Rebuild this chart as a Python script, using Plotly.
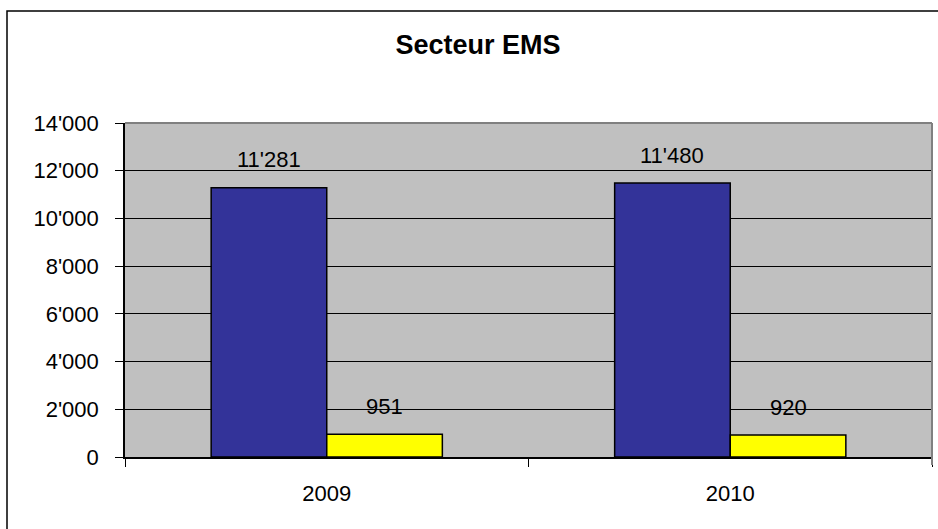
import plotly.graph_objects as go

categories = ["2009", "2010"]
series_a = [11281, 11480]
series_b = [951, 920]
y_ticks = [0, 2000, 4000, 6000, 8000, 10000, 12000, 14000]
title_text = "Secteur EMS"

W, H = 938, 529
L, R, T, B = 125, 6, 123, 72
pw = W - L - R
ph = H - T - B
bargap = 0.427
bar_px = pw / len(categories) * (1 - bargap) / 2

def fmt(v):
    return f"{v:,}".replace(",", "'")

FONT = "Liberation Sans, Arial, sans-serif"

fig = go.Figure()
fig.add_bar(x=categories, y=series_a, marker=dict(color="#333399", line=dict(color="black", width=1.5)), showlegend=False)
fig.add_bar(x=categories, y=series_b, marker=dict(color="#FFFF00", line=dict(color="black", width=1.5)), showlegend=False)

annotations = []
for i, c in enumerate(categories):
    for vals, sh in ((series_a, -bar_px / 2), (series_b, bar_px / 2)):
        annotations.append(dict(x=i, y=vals[i], xref="x", yref="y", text=fmt(vals[i]),
                                showarrow=False, xshift=sh, yshift=28, yanchor="middle",
                                font=dict(family=FONT, size=22, color="black")))

shapes = [
    # outer chart border (right/bottom cropped off)
    dict(type="rect", xref="paper", yref="paper",
         x0=(7 - L) / pw, x1=(W + 10 - L) / pw,
         y0=-(H + 10 - (H - B)) / ph, y1=((H - B) - 11) / ph,
         line=dict(color="black", width=1.5), fillcolor="rgba(0,0,0,0)", layer="above"),
    # plot area top and right borders (gray)
    dict(type="line", xref="paper", yref="paper", x0=0, x1=1, y0=1, y1=1,
         line=dict(color="#808080", width=2), layer="above"),
    dict(type="line", xref="paper", yref="paper", x0=1, x1=1, y0=-8 / ph, y1=1,
         line=dict(color="#808080", width=2), layer="above"),
]

fig.update_layout(
    width=W, height=H,
    margin=dict(l=L, r=R, t=T, b=B, pad=0),
    paper_bgcolor="white", plot_bgcolor="#C0C0C0",
    barmode="group", bargap=bargap, bargroupgap=0,
    separators=".'",
    title=dict(text=f"<b>{title_text}</b>", x=478 / W, xanchor="center",
               y=1 - 45 / H, yanchor="middle", xref="container", yref="container",
               font=dict(family=FONT, size=27, color="black")),
    annotations=annotations, shapes=shapes,
    font=dict(family=FONT, size=22, color="black"),
)
fig.update_yaxes(range=[0, 14000], tickvals=y_ticks, ticktext=[fmt(v) for v in y_ticks],
                 showgrid=True, gridcolor="black", gridwidth=1,
                 showline=True, linecolor="black", linewidth=1.5,
                 ticks="outside", ticklen=8, tickcolor="black", tickwidth=1,
                 ticklabelstandoff=12, zeroline=False,
                 tickfont=dict(family=FONT, size=22, color="black"))
fig.update_xaxes(type="category", range=[-0.5, len(categories) - 0.5],
                 showline=True, linecolor="black", linewidth=2,
                 ticks="outside", tickson="boundaries", ticklen=8, tickcolor="black", tickwidth=1,
                 ticklabelstandoff=16, showgrid=False, tickangle=0,
                 tickfont=dict(family=FONT, size=22, color="black"))

fig.write_html("out.html", config={"displayModeBar": False})
with open("out.html", "r", encoding="utf-8") as f:
    html = f.read()
html = html.replace("<body>", '<body style="margin:0;overflow:hidden">', 1)
with open("out.html", "w", encoding="utf-8") as f:
    f.write(html)
